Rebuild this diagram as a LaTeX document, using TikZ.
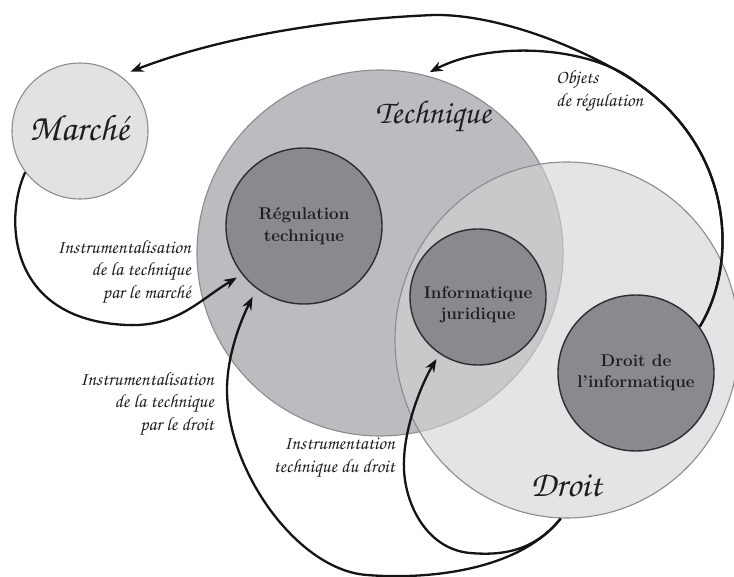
\documentclass[tikz,border=0pt]{standalone}
\usepackage[T1,TU]{fontenc}
\usepackage{tikz}
\usetikzlibrary{shapes.geometric,arrows.meta,positioning}

\definecolor{marchefill}{RGB}{226,226,228}
\definecolor{techfill}{RGB}{188,188,192}
\definecolor{droitfill}{RGB}{210,210,213}
\definecolor{innerfill}{RGB}{138,138,142}
\definecolor{outerline}{RGB}{140,140,143}
\definecolor{innerline}{RGB}{45,45,48}
\definecolor{labeltext}{RGB}{30,30,33}

\newcommand{\chancery}{\fontencoding{T1}\fontfamily{pzc}\fontseries{mb}\fontshape{it}\selectfont}

\begin{document}
\begin{tikzpicture}[x=1pt,y=-1pt,>={Stealth[length=13pt,width=10pt]}]

\tikzstyle{outer} = [circle, draw=outerline, line width=1.1pt, inner sep=0pt]
\tikzstyle{inner} = [circle, draw=innerline, fill=innerfill, line width=1.4pt, inner sep=0pt, align=center, text=labeltext, font={\bfseries\fontsize{17}{21.5}\selectfont}]
\tikzstyle{bigLabel} = [inner sep=0pt, text=labeltext, font={\chancery\fontsize{33}{36}\selectfont}]
\tikzstyle{arcLabel} = [inner sep=0pt, align=right, text=labeltext, font={\chancery\fontsize{19}{22.5}\selectfont}]
\tikzstyle{arc} = [->, line width=2.3pt, draw=black!92];

\useasboundingbox (0,0) rectangle (734,577);

% les trois domaines
\node[outer, fill=marchefill, minimum size=136, name=marche] at (80,131) {};
\node[outer, fill=techfill, minimum size=366, name=tech] at (380,253) {};
\node[outer, ellipse, fill=droitfill, fill opacity=0.6, minimum width=344, minimum height=356, name=droit] at (567,340) {};

% les trois intersections
\node[inner, minimum size=156, name=regul] at (304,226) {Régulation\\technique};
\node[inner, minimum size=136, name=infojur, label={[inner sep=0pt, yshift=-8pt, align=center, text=labeltext, font={\bfseries\fontsize{17}{21.5}\selectfont}]center:Informatique\\juridique}] at (478,297) {};
\node[inner, minimum size=156, name=droitinfo] at (636,373) {Droit de\\l'informatique};

\node[bigLabel, font={\chancery\fontsize{37}{40}\selectfont}, name=marcheLabel] at (79,128) {Marché};
\node[bigLabel, name=techLabel] at (433,117) {Technique};
\node[bigLabel, font={\chancery\fontsize{36}{40}\selectfont}, name=droitLabel] at (566,485) {Droit};

\node[arcLabel, align=left, anchor=west, name=objets] at (556,91) {Objets\\de régulation};
\node[arcLabel, anchor=east, name=instMarche] at (191,272) {Instrumentalisation\\de la technique\\par le marché};
\node[arcLabel, anchor=east, name=instDroit] at (214,404) {Instrumentalisation\\de la technique\\par le droit};
\node[arcLabel, anchor=east, name=instTech] at (395,458) {Instrumentation\\technique du droit};

\draw[arc, shorten >=11pt] (droitinfo.36) .. controls (738,265) and (735,150) .. (637,83) .. controls (588,50) and (500,14) .. (434,15) .. controls (334,19) and (223,36) .. (marche.54);
\draw[arc, shorten >=6pt] (droitinfo.36) .. controls (738,265) and (735,150) .. (637,83) .. controls (592,46) and (492,40) .. (tech.76);
\draw[arc, shorten >=6pt] (marche.217) .. controls (5,215) and (5,320) .. (127,325) .. controls (177,327) and (198,301) .. (regul.218);
\draw[arc, shorten >=9pt] (droit.268) .. controls (520,570) and (430,580) .. (367,575) .. controls (297,570) and (227,470) .. (227,390) .. controls (227,355) and (241,320) .. (regul.233);
\draw[arc, shorten >=6pt] (droit.268) .. controls (535,550) and (505,556) .. (470,553) .. controls (425,549) and (402,500) .. (404,460) .. controls (405,425) and (422,383) .. (infojur.236);
\end{tikzpicture}
\end{document}
